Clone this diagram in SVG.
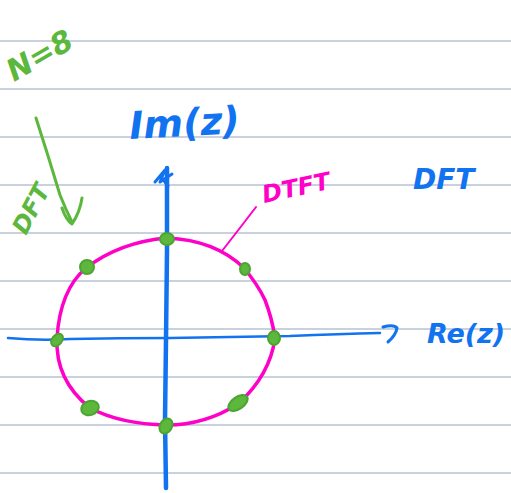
<svg xmlns="http://www.w3.org/2000/svg" width="511" height="493" viewBox="0 0 511 493">
<style>
.rule{stroke:#c9d1de;stroke-width:2}
.blue{stroke:#1273f0;fill:none;stroke-linecap:round;stroke-linejoin:round}
.pink{stroke:#ff00c8;fill:none;stroke-linecap:round;stroke-linejoin:round}
.green{stroke:#5cb83c;fill:none;stroke-linecap:round;stroke-linejoin:round}
.dot{fill:#5cb83c;stroke:#4ea332;stroke-width:2}
text{font-family:"DejaVu Sans","Liberation Sans",sans-serif;font-style:italic;font-weight:bold}
</style>
<rect width="511" height="493" fill="#ffffff"/>
<g id="rules">
<line class="rule" x1="0" y1="41" x2="511" y2="41"/>
<line class="rule" x1="0" y1="89" x2="511" y2="89"/>
<line class="rule" x1="0" y1="137" x2="511" y2="137"/>
<line class="rule" x1="0" y1="185" x2="511" y2="185"/>
<line class="rule" x1="0" y1="233" x2="511" y2="233"/>
<line class="rule" x1="0" y1="281" x2="511" y2="281"/>
<line class="rule" x1="0" y1="329" x2="511" y2="329"/>
<line class="rule" x1="0" y1="377" x2="511" y2="377"/>
<line class="rule" x1="0" y1="425" x2="511" y2="425"/>
<line class="rule" x1="0" y1="473" x2="511" y2="473"/>
</g>
<g id="connectors">
<path id="im-axis" class="blue" stroke-width="4.5" d="M167 168 L167 250 L166 340 L165 420 L166 488"/>
<path class="blue" stroke-width="3" d="M155 182 L165 170 L160 182 L172 174 M162 178 L168 186"/>
<path id="re-axis" class="blue" stroke-width="2.5" d="M8 338 Q40 341 70 339 Q120 338 170 338 Q230 337 290 336 Q340 334 380 333"/>
<path class="blue" stroke-width="3" d="M383 327 Q394 324 397 328 Q396 335 388 342"/>
<path id="dtft-leader" class="pink" stroke-width="2" d="M222 251 Q240 228 256 207"/>
<path id="green-arrow" class="green" stroke-width="3" d="M36 118 Q48 155 60 195 Q66 210 72 222 M62 208 Q66 220 72 224 Q80 212 82 198"/>
</g>
<g id="circle">
<path class="pink" stroke-width="3.5" d="M57 338 Q60 290 86 268 Q120 242 167 238 Q215 240 244 268 Q258 285 265 300 Q272 318 275 338 Q270 375 238 404 Q205 425 167 425 Q120 424 90 408 Q55 380 57 338 Z"/>
</g>
<g id="points">
<ellipse class="dot" cx="167" cy="239" rx="7" ry="6"/>
<ellipse class="dot" cx="87" cy="267" rx="7" ry="7"/>
<ellipse class="dot" cx="245" cy="269" rx="5" ry="6"/>
<ellipse class="dot" cx="57" cy="340" rx="5" ry="7" transform="rotate(40 57 340)"/>
<ellipse class="dot" cx="274" cy="338" rx="6" ry="7"/>
<ellipse class="dot" cx="90" cy="408" rx="9" ry="7" transform="rotate(-20 90 408)"/>
<ellipse class="dot" cx="238" cy="403" rx="11" ry="6" transform="rotate(-35 238 403)"/>
<ellipse class="dot" cx="166" cy="426" rx="6" ry="8" transform="rotate(30 166 426)"/>
</g>
<g id="labels">
<text x="130" y="139" font-size="38" fill="#1273f0" transform="rotate(-3 130 139)">Im(z)</text>
<text x="413" y="189" font-size="28" fill="#1273f0">DFT</text>
<text x="427" y="343" font-size="27" fill="#1273f0">Re(z)</text>
<text x="264" y="203" font-size="24" fill="#ff00c8" transform="rotate(-12 264 203)">DTFT</text>
<text x="14" y="82" font-size="30" fill="#5cb83c" transform="rotate(-30 14 82)">N=8</text>
<text x="26" y="236" font-size="24" fill="#5cb83c" transform="rotate(-62 26 236)">DFT</text>
</g>
</svg>
